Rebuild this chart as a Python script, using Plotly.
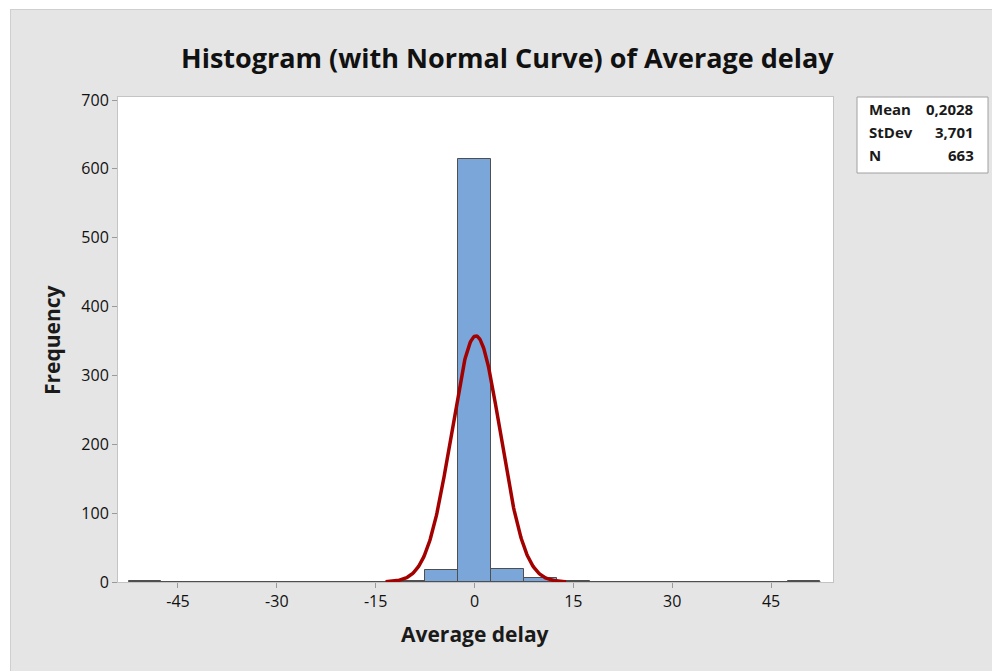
import numpy as np
import plotly.graph_objects as go

# ---- data ----
bin_centers = [-50, -45, -40, -35, -30, -25, -20, -15, -10, -5, 0, 5, 10, 15, 20, 25, 30, 35, 40, 45, 50]
counts =      [1,   0,   0,   0,   0,   0,   0,   0,   2,  17, 615, 19, 6,  2,  0,  0,  0,  0,  0,  0,  1]
bin_width = 5
stat_mean = 0.2028
stat_sd = 3.701
stat_n = 663
x_ticks = [-45, -30, -15, 0, 15, 30, 45]
x_tick_labels = ["-45", "-30", "-15", "0", "15", "30", "45"]
y_ticks = [0, 100, 200, 300, 400, 500, 600, 700]
stat_labels = ["Mean", "StDev", "N"]
stat_values = ["0,2028", "3,701", "663"]

FONT = "Open Sans"
OFF = 8  # page body margin
fig = go.Figure()

# histogram bars
fig.add_trace(go.Bar(
    x=bin_centers, y=counts, width=bin_width,
    marker=dict(color="#7ba6da", line=dict(color="#4f4f4f", width=1)),
    hoverinfo="x+y", showlegend=False,
))

# baseline outline of empty bins
edges = [bin_centers[0] - bin_width / 2, bin_centers[-1] + bin_width / 2]
fig.add_trace(go.Scatter(
    x=edges, y=[0, 0], mode="lines",
    line=dict(color="#4f4f4f", width=1.5), hoverinfo="skip", showlegend=False,
))

# fitted normal curve
xc = np.linspace(stat_mean - 3.7 * stat_sd, stat_mean + 3.7 * stat_sd, 300)
yc = stat_n * bin_width / (stat_sd * np.sqrt(2 * np.pi)) * np.exp(-0.5 * ((xc - stat_mean) / stat_sd) ** 2)
fig.add_trace(go.Scatter(
    x=xc, y=yc, mode="lines",
    line=dict(color="#a30000", width=3.5), hoverinfo="skip", showlegend=False,
))

W, H = 1000, 671
L, T = 118 - OFF, 97 - OFF
R = W - (833 - OFF)
B = H - (582 - OFF)
pw, ph = W - L - R, H - T - B
def px_x(p):  # page pixel -> paper
    return (p - OFF - L) / pw
def px_y(p):
    return (H - B - (p - OFF)) / ph

shapes = [
    # thin white strips / border of the gray panel
    dict(type="rect", xref="paper", yref="paper", x0=px_x(0), x1=px_x(10), y0=px_y(700), y1=px_y(0),
         fillcolor="white", line=dict(width=0), layer="below"),
    dict(type="rect", xref="paper", yref="paper", x0=px_x(0), x1=px_x(1010), y0=px_y(9), y1=px_y(0),
         fillcolor="white", line=dict(width=0), layer="below"),
    dict(type="line", xref="paper", yref="paper", x0=px_x(10), x1=px_x(1010), y0=px_y(9.5), y1=px_y(9.5),
         line=dict(color="#cfcfcf", width=1)),
    dict(type="line", xref="paper", yref="paper", x0=px_x(10.5), x1=px_x(10.5), y0=px_y(9.5), y1=px_y(700),
         line=dict(color="#cfcfcf", width=1)),
    # stats box
    dict(type="rect", xref="paper", yref="paper", x0=px_x(857), x1=px_x(988), y0=px_y(173), y1=px_y(97),
         fillcolor="white", line=dict(color="#a0a0a0", width=1)),
]

annotations = []
row_y = [109, 132, 155]
for lab, val, ry in zip(stat_labels, stat_values, row_y):
    annotations.append(dict(xref="paper", yref="paper", x=px_x(867), y=px_y(ry), text=f"<b>{lab}</b>",
                            xanchor="left", yanchor="middle", showarrow=False,
                            font=dict(family=FONT, size=15, color="#1a1a1a")))
    annotations.append(dict(xref="paper", yref="paper", x=px_x(976), y=px_y(ry), text=f"<b>{val}</b>",
                            xanchor="right", yanchor="middle", showarrow=False,
                            font=dict(family=FONT, size=15, color="#1a1a1a")))
annotations.append(dict(xref="paper", yref="paper", x=px_x(508), y=px_y(57),
                        text="<b>Histogram (with Normal Curve) of Average delay</b>",
                        xanchor="center", yanchor="middle", showarrow=False,
                        font=dict(family=FONT, size=27, color="#111111")))
annotations.append(dict(xref="paper", yref="paper", x=px_x(475), y=px_y(634),
                        text="<b>Average delay</b>",
                        xanchor="center", yanchor="middle", showarrow=False,
                        font=dict(family=FONT, size=21, color="#1a1a1a")))
annotations.append(dict(xref="paper", yref="paper", x=px_x(52), y=px_y(340),
                        text="<b>Frequency</b>", textangle=-90,
                        xanchor="center", yanchor="middle", showarrow=False,
                        font=dict(family=FONT, size=21, color="#1a1a1a")))

fig.update_layout(
    width=W, height=H,
    margin=dict(l=L, r=R, t=T, b=B),
    paper_bgcolor="#e5e5e5",
    plot_bgcolor="white",
    xaxis=dict(range=[-54.1, 54.4], tickvals=x_ticks, ticktext=x_tick_labels,
               ticks="outside", ticklen=5,
               tickcolor="#9a9a9a", showgrid=False, zeroline=False,
               showline=True, mirror=True, linecolor="#c4c4c4", linewidth=1,
               tickfont=dict(family=FONT, size=16, color="#111111")),
    yaxis=dict(range=[0, 704.4], tickvals=y_ticks, ticks="outside", ticklen=5,
               tickcolor="#9a9a9a", showgrid=False, zeroline=False,
               showline=True, mirror=True, linecolor="#c4c4c4", linewidth=1,
               tickfont=dict(family=FONT, size=16, color="#111111")),
    shapes=shapes,
    annotations=annotations,
    bargap=0,
)

fig.write_html("out.html")
